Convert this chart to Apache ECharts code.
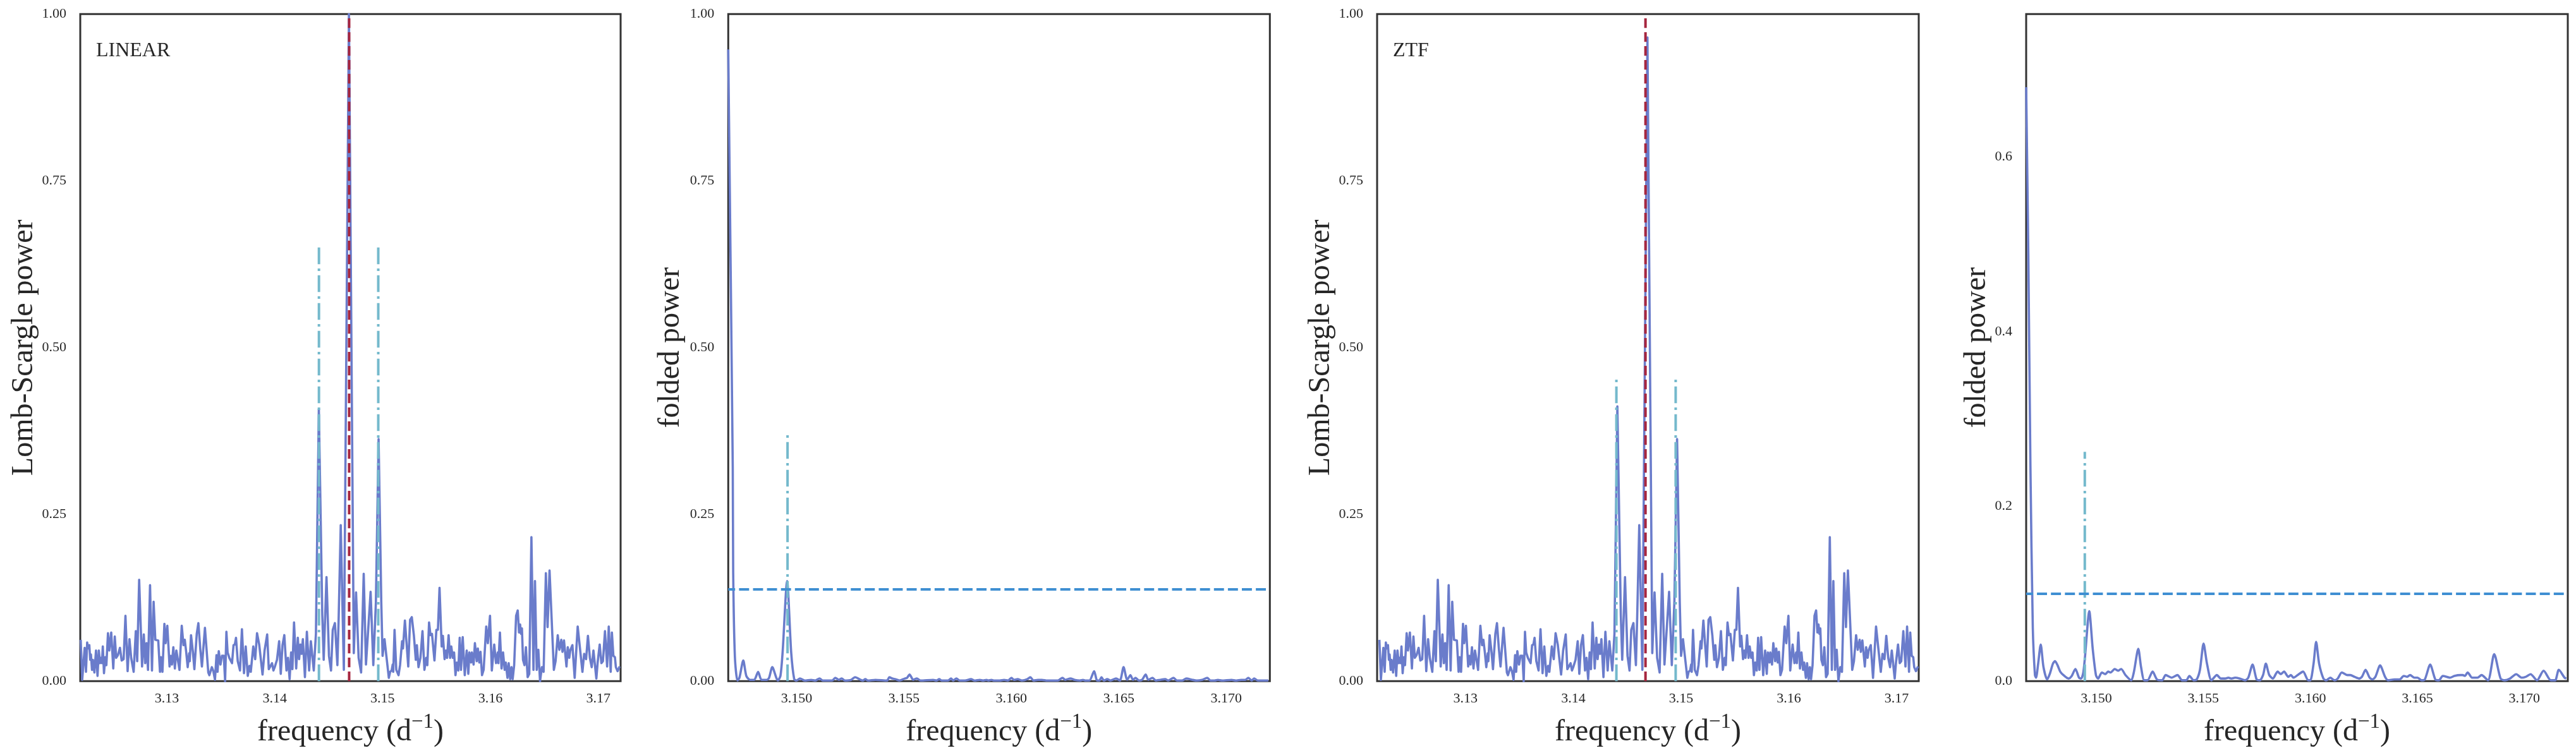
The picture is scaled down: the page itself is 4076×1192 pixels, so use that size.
<!DOCTYPE html>
<html><head><meta charset="utf-8">
<style>html,body{margin:0;padding:0;background:#fff}#c{width:4076px;height:1192px}</style>
<script src="https://cdn.jsdelivr.net/npm/echarts@6/dist/echarts.min.js"></script>
</head><body><div id="c"></div>
<script>
// Lomb-Scargle periodogram, shared side-lobe regions of both surveys
const lsLeftFreq=[3.12201,3.12215,3.12238,3.12250,3.12261,3.12269,3.12281,3.12289,3.12296,3.12306,3.12314,3.12328,3.12343,3.12357,3.12369,3.12380,3.12390,3.12398,3.12406,3.12417,3.12429,3.12439,3.12454,3.12466,3.12484,3.12503,3.12517,3.12530,3.12546,3.12565,3.12581,3.12599,3.12616,3.12636,3.12653,3.12669,3.12678,3.12692,3.12712,3.12725,3.12743,3.12770,3.12786,3.12799,3.12811,3.12825,3.12844,3.12862,3.12877,3.12893,3.12920,3.12936,3.12945,3.12959,3.12977,3.12988,3.13004,3.13025,3.13037,3.13047,3.13060,3.13074,3.13088,3.13117,3.13138,3.13154,3.13166,3.13179,3.13193,3.13207,3.13212,3.13224,3.13242,3.13255,3.13277,3.13292,3.13310,3.13325,3.13353,3.13384,3.13394,3.13417,3.13431,3.13446,3.13460,3.13470,3.13481,3.13497,3.13511,3.13528,3.13540,3.13552,3.13563,3.13579,3.13604,3.13618,3.13630,3.13641,3.13657,3.13678,3.13696,3.13715,3.13731,3.13750,3.13766,3.13778,3.13801,3.13819,3.13836,3.13856,3.13887,3.13906,3.13930,3.13945,3.13975,3.13988,3.14002,3.14021,3.14041,3.14056,3.14072,3.14089,3.14109,3.14123,3.14138,3.14152,3.14164,3.14179,3.14199,3.14214,3.14226,3.14238,3.14249,3.14261,3.14280,3.14298,3.14319,3.14335,3.14362];
const lsLeftPower=[.062,.002,.050,.014,.058,.049,.054,.032,.040,.017,.032,.013,.046,.008,.046,.027,.035,.027,.052,.012,.036,.024,.072,.046,.073,.019,.067,.035,.039,.050,.031,.033,.098,.015,.063,.035,.035,.014,.075,.030,.152,.022,.070,.027,.057,.017,.144,.016,.119,.062,.061,.014,.036,.014,.086,.057,.083,.022,.038,.025,.051,.019,.046,.017,.083,.054,.062,.044,.021,.042,.030,.069,.043,.018,.071,.087,.048,.022,.080,.013,.009,.021,.015,.002,.039,.014,.045,.025,.038,.038,.000,.074,.043,.035,.027,.054,.055,.065,.030,.016,.078,.012,.052,.008,.023,.014,.052,.033,.072,.055,.010,.046,.070,.018,.027,.016,.022,.032,.060,.011,.054,.069,.016,.035,.003,.043,.018,.088,.019,.065,.033,.055,.041,.063,.006,.074,.016,.060,.016];
const lsCoreFreq=[3.14382,3.14409,3.14441,3.14454,3.14480,3.14503,3.14522,3.14538,3.14558,3.14581,3.14593,3.14612,3.14641,3.14688,3.14733,3.14754,3.14778,3.14788,3.14801,3.14825,3.14846,3.14889,3.14914,3.14938,3.14963,3.14988,3.15000];
const linearCorePower=[.071,.408,.099,.032,.156,.038,.016,.077,.087,.024,.096,.234,.017,1.000,.042,.133,.035,.034,.013,.161,.025,.134,.024,.118,.363,.118,.038];
const ztfCorePower=[.071,.412,.099,.032,.156,.038,.016,.077,.087,.024,.096,.234,.017,.965,.042,.133,.035,.034,.013,.161,.025,.134,.024,.118,.363,.118,.038];
const lsRightFreq=[3.15018,3.15035,3.15058,3.15070,3.15084,3.15094,3.15099,3.15111,3.15127,3.15148,3.15162,3.15181,3.15189,3.15207,3.15238,3.15255,3.15271,3.15290,3.15308,3.15318,3.15333,3.15351,3.15370,3.15388,3.15405,3.15415,3.15431,3.15444,3.15458,3.15481,3.15499,3.15513,3.15528,3.15548,3.15559,3.15575,3.15587,3.15598,3.15612,3.15626,3.15637,3.15651,3.15663,3.15676,3.15688,3.15702,3.15715,3.15727,3.15743,3.15762,3.15780,3.15795,3.15805,3.15821,3.15828,3.15844,3.15856,3.15873,3.15883,3.15897,3.15908,3.15922,3.15937,3.15961,3.15976,3.15996,3.16013,3.16035,3.16052,3.16068,3.16074,3.16088,3.16103,3.16117,3.16132,3.16142,3.16158,3.16169,3.16183,3.16195,3.16206,3.16220,3.16238,3.16253,3.16265,3.16275,3.16284,3.16292,3.16302,3.16316,3.16329,3.16345,3.16360,3.16380,3.16399,3.16413,3.16429,3.16444,3.16460,3.16477,3.16493,3.16514,3.16530,3.16548,3.16588,3.16604,3.16624,3.16639,3.16657,3.16668,3.16682,3.16705,3.16717,3.16731,3.16740,3.16760,3.16781,3.16809,3.16853,3.16869,3.16887,3.16904,3.16922,3.16939,3.16955,3.16982,3.16994,3.17013,3.17029,3.17043,3.17062,3.17082,3.17097,3.17115,3.17126,3.17140,3.17154,3.17163,3.17179,3.17198];
const lsRightPower=[.063,.038,.005,.014,.016,.025,.014,.077,.017,.009,.024,.060,.049,.091,.022,.092,.096,.069,.032,.054,.021,.035,.075,.017,.035,.024,.088,.069,.071,.031,.077,.077,.140,.052,.068,.033,.046,.035,.069,.035,.052,.035,.043,.009,.028,.016,.065,.017,.066,.009,.046,.011,.043,.028,.043,.025,.057,.030,.049,.028,.044,.009,.017,.082,.057,.098,.016,.055,.027,.043,.027,.073,.019,.043,.017,.028,.005,.027,.003,.021,.003,.024,.098,.106,.073,.085,.071,.079,.032,.024,.051,.006,.011,.216,.017,.150,.017,.047,.000,.021,.014,.162,.081,.166,.017,.030,.069,.047,.062,.044,.061,.022,.051,.035,.046,.054,.005,.082,.014,.041,.033,.068,.035,.021,.046,.004,.028,.055,.027,.030,.075,.022,.082,.014,.073,.038,.036,.021,.015,.022];

// Folded power, LINEAR
const foldLinearFreq=[3.14682,3.14703,3.14705,3.14713,3.14725,3.14734,3.14752,3.14766,3.14783,3.14803,3.14821,3.14837,3.14862,3.14872,3.14887,3.14913,3.14925,3.14935,3.14956,3.14975,3.14989,3.15000,3.15016,3.15038,3.15068,3.15087,3.15107,3.15122,3.15166,3.15180,3.15197,3.15210,3.15225,3.15254,3.15272,3.15298,3.15308,3.15320,3.15332,3.15367,3.15421,3.15432,3.15445,3.15460,3.15479,3.15504,3.15514,3.15526,3.15543,3.15560,3.15577,3.15636,3.15651,3.15664,3.15675,3.15705,3.15719,3.15729,3.15744,3.15759,3.15784,3.15812,3.15828,3.15853,3.15868,3.15884,3.15892,3.15907,3.15917,3.15946,3.15966,3.15985,3.16000,3.16012,3.16029,3.16049,3.16074,3.16088,3.16103,3.16123,3.16142,3.16167,3.16216,3.16238,3.16250,3.16275,3.16294,3.16319,3.16333,3.16343,3.16363,3.16385,3.16399,3.16410,3.16419,3.16431,3.16446,3.16461,3.16487,3.16505,3.16522,3.16539,3.16554,3.16566,3.16578,3.16593,3.16608,3.16625,3.16637,3.16657,3.16672,3.16691,3.16716,3.16730,3.16755,3.16770,3.16794,3.16814,3.16843,3.16863,3.16887,3.16912,3.16926,3.16946,3.16961,3.16980,3.17025,3.17044,3.17069,3.17088,3.17103,3.17118,3.17130,3.17147,3.17196];
const foldLinearPower=[.947,.320,.163,.036,.001,.005,.031,.008,.002,.002,.014,.002,.002,.005,.021,.001,.008,.043,.150,.043,.003,.001,.004,.001,.002,.001,.004,.001,.001,.005,.002,.004,.001,.002,.006,.002,.001,.003,.001,.002,.001,.006,.004,.003,.001,.004,.005,.010,.002,.004,.001,.002,.001,.003,.001,.001,.004,.001,.004,.001,.001,.003,.001,.002,.001,.002,.001,.002,.001,.001,.002,.001,.005,.002,.003,.001,.003,.006,.001,.002,.002,.001,.001,.005,.002,.004,.002,.001,.002,.001,.001,.015,.001,.001,.006,.001,.003,.001,.004,.001,.021,.002,.009,.002,.005,.001,.002,.010,.002,.005,.001,.002,.003,.001,.005,.001,.001,.004,.002,.001,.002,.005,.001,.001,.002,.001,.002,.001,.002,.002,.005,.001,.004,.001,.001];

// Folded power, ZTF
const foldZtfFreq=[3.14672,3.14682,3.14692,3.14703,3.14713,3.14718,3.14728,3.14740,3.14753,3.14770,3.14782,3.14797,3.14807,3.14819,3.14831,3.14846,3.14870,3.14885,3.14902,3.14919,3.14929,3.14939,3.14947,3.14967,3.14983,3.14998,3.15008,3.15026,3.15042,3.15055,3.15067,3.15086,3.15101,3.15116,3.15136,3.15163,3.15175,3.15196,3.15209,3.15224,3.15239,3.15263,3.15283,3.15307,3.15324,3.15352,3.15379,3.15401,3.15420,3.15435,3.15455,3.15469,3.15484,3.15501,3.15517,3.15538,3.15563,3.15582,3.15602,3.15617,3.15631,3.15648,3.15671,3.15695,3.15710,3.15730,3.15749,3.15764,3.15779,3.15792,3.15808,3.15825,3.15847,3.15862,3.15877,3.15897,3.15909,3.15921,3.15946,3.15966,3.15990,3.16000,3.16015,3.16027,3.16041,3.16061,3.16074,3.16093,3.16113,3.16128,3.16147,3.16172,3.16187,3.16206,3.16228,3.16241,3.16258,3.16277,3.16290,3.16304,3.16326,3.16349,3.16363,3.16393,3.16417,3.16437,3.16452,3.16466,3.16486,3.16501,3.16520,3.16535,3.16560,3.16584,3.16601,3.16619,3.16653,3.16673,3.16702,3.16712,3.16722,3.16735,3.16756,3.16781,3.16800,3.16830,3.16859,3.16889,3.16908,3.16933,3.16962,3.16987,3.17007,3.17029,3.17059,3.17090,3.17124,3.17144,3.17161,3.17188,3.17196];
const foldZtfPower=[.680,.490,.245,.061,.007,.004,.020,.042,.016,.002,.008,.020,.023,.018,.011,.007,.003,.006,.014,.004,.003,.010,.028,.080,.037,.007,.003,.010,.008,.011,.010,.014,.012,.014,.007,.001,.010,.037,.016,.001,.001,.011,.002,.001,.007,.004,.007,.001,.001,.006,.001,.002,.013,.043,.020,.001,.007,.003,.003,.004,.003,.004,.003,.001,.004,.019,.002,.001,.007,.020,.007,.003,.011,.008,.011,.005,.007,.004,.008,.011,.001,.001,.020,.045,.020,.003,.001,.004,.001,.003,.010,.007,.007,.005,.003,.005,.013,.004,.002,.005,.018,.005,.001,.002,.002,.006,.005,.007,.004,.004,.001,.002,.019,.002,.001,.006,.004,.006,.007,.007,.006,.010,.004,.004,.007,.001,.031,.003,.001,.003,.008,.004,.005,.008,.001,.012,.001,.001,.013,.004,.003];

// Reference lines [frequency, height]
const linearAliasFreq=[3.1441,3.1496], linearAliasTop=0.652, linearPeakFreq=3.1469, linearPeakTop=1.0;
const ztfAliasFreq=[3.1440,3.1495], ztfAliasTop=0.455, ztfPeakFreq=3.1467, ztfPeakTop=0.998;
const foldLinearAlias=3.14958, foldLinearAliasTop=0.369, foldLinearThreshold=0.1376;
const foldZtfAlias=3.14946, foldZtfAliasTop=0.2625, foldZtfThreshold=0.1;

// Axis ranges and tick labels
const lsXRange=[3.12197,3.17207], lsXRange2=[3.1218,3.17205];
const foldXRange=[3.14682,3.17203], foldXRange2=[3.14672,3.17203];
const lsXTicks=[3.13,3.14,3.15,3.16,3.17], foldXTicks=[3.150,3.155,3.160,3.165,3.170];
const powerTicks=[0,0.25,0.5,0.75,1], foldZtfTicks=[0,0.2,0.4,0.6], foldZtfMax=0.7636;
const yTitles=['Lomb-Scargle power','folded power','Lomb-Scargle power','folded power'];
const surveyNames=['LINEAR','ZTF'];

const zip=(f,p)=>f.map((x,i)=>[x,p[i]]);
const linearLS=[...zip(lsLeftFreq,lsLeftPower),...zip(lsCoreFreq,linearCorePower),...zip(lsRightFreq,lsRightPower)];
const ztfLS=[...zip(lsLeftFreq,lsLeftPower),...zip(lsCoreFreq,ztfCorePower),...zip(lsRightFreq,lsRightPower)];

const BLUE='#6a7ccb',CYAN='#74b9cc',RED='#a6263f',HOR='#3f8fd2',INK='#262626',FONT='"Liberation Serif","Times New Roman",serif';
const boxes=[[127,855],[1152.3,857],[2179,857],[3206,857]];
const yGaps=[65,67,65,51];
const panels=[
 {line:linearLS,smooth:false,range:lsXRange,xt:lsXTicks,xdec:2,yt:powerTicks,ymax:1,vl:linearAliasFreq,vt:linearAliasTop,red:linearPeakFreq,rt:linearPeakTop},
 {line:zip(foldLinearFreq,foldLinearPower),smooth:0.25,range:foldXRange,xt:foldXTicks,xdec:3,yt:powerTicks,ymax:1,vl:[foldLinearAlias],vt:foldLinearAliasTop,h:foldLinearThreshold},
 {line:ztfLS,smooth:false,range:lsXRange2,xt:lsXTicks,xdec:2,yt:powerTicks,ymax:1,vl:ztfAliasFreq,vt:ztfAliasTop,red:ztfPeakFreq,rt:ztfPeakTop},
 {line:zip(foldZtfFreq,foldZtfPower),smooth:0.25,range:foldXRange2,xt:foldXTicks,xdec:3,yt:foldZtfTicks,ymax:foldZtfMax,vl:[foldZtfAlias],vt:foldZtfAliasTop,h:foldZtfThreshold}
];
const grid=[],xAxis=[],yAxis=[],series=[];
panels.forEach((p,i)=>{
 grid.push({left:boxes[i][0],width:boxes[i][1],top:22.3,height:1056,show:true,outerBoundsMode:'none',containLabel:false,borderColor:'#333',borderWidth:3,backgroundColor:'#fff'});
 xAxis.push({type:'value',gridIndex:i,min:p.range[0],max:p.range[1],splitLine:{show:false},axisLine:{show:false},axisTick:{show:false},
  axisLabel:{customValues:p.xt,formatter:v=>v.toFixed(p.xdec),fontFamily:FONT,fontSize:22,color:INK,margin:17},
  name:'{a|frequency (d}{s|−1}{a|)}',nameLocation:'middle',nameGap:49,
  nameTextStyle:{rich:{a:{fontFamily:FONT,fontSize:48,color:INK,lineHeight:56,verticalAlign:'bottom'},s:{fontFamily:FONT,fontSize:33,color:INK,lineHeight:36,verticalAlign:'top'}}}});
 yAxis.push({type:'value',gridIndex:i,min:0,max:p.ymax,splitLine:{show:false},axisLine:{show:false},axisTick:{show:false},
  axisLabel:{customValues:p.yt,formatter:v=>(p.ymax===1?v.toFixed(2):v.toFixed(1)),fontFamily:FONT,fontSize:22,color:INK,margin:22},
  name:yTitles[i],nameLocation:'middle',nameGap:yGaps[i],nameTextStyle:{fontFamily:FONT,fontSize:48,color:INK}});
 series.push({type:'line',xAxisIndex:i,yAxisIndex:i,data:p.line,showSymbol:false,symbol:'none',smooth:p.smooth,lineStyle:{color:BLUE,width:3.6,join:'round'},z:3,animation:false,silent:true});
 p.vl.forEach(f=>series.push({type:'line',xAxisIndex:i,yAxisIndex:i,data:[[f,0],[f,p.vt]],showSymbol:false,symbol:'none',lineStyle:{color:CYAN,width:4,type:[26.5,6.7,4,6.8],cap:'butt'},z:4,animation:false,silent:true}));
 if(p.red!==undefined)series.push({type:'line',xAxisIndex:i,yAxisIndex:i,data:[[p.red,0],[p.red,p.rt]],showSymbol:false,symbol:'none',lineStyle:{color:RED,width:4,type:[15.4,6.6],cap:'butt'},z:5,animation:false,silent:true});
 if(p.h!==undefined)series.push({type:'line',xAxisIndex:i,yAxisIndex:i,data:[[p.range[0],p.h],[p.range[1],p.h]],showSymbol:false,symbol:'none',lineStyle:{color:HOR,width:4,type:[15.9,6.2],dashOffset:5,cap:'butt'},z:5,animation:false,silent:true});
});
const chart=echarts.init(document.getElementById('c'),null,{renderer:'canvas'});
chart.setOption({animation:false,backgroundColor:'#fff',
 title:[{text:surveyNames[0],left:147,top:60,textStyle:{fontFamily:FONT,fontSize:32,fontWeight:'normal',color:INK}},
        {text:surveyNames[1],left:2199,top:60,textStyle:{fontFamily:FONT,fontSize:32,fontWeight:'normal',color:INK}}],
 grid,xAxis,yAxis,series});
</script></body></html>
